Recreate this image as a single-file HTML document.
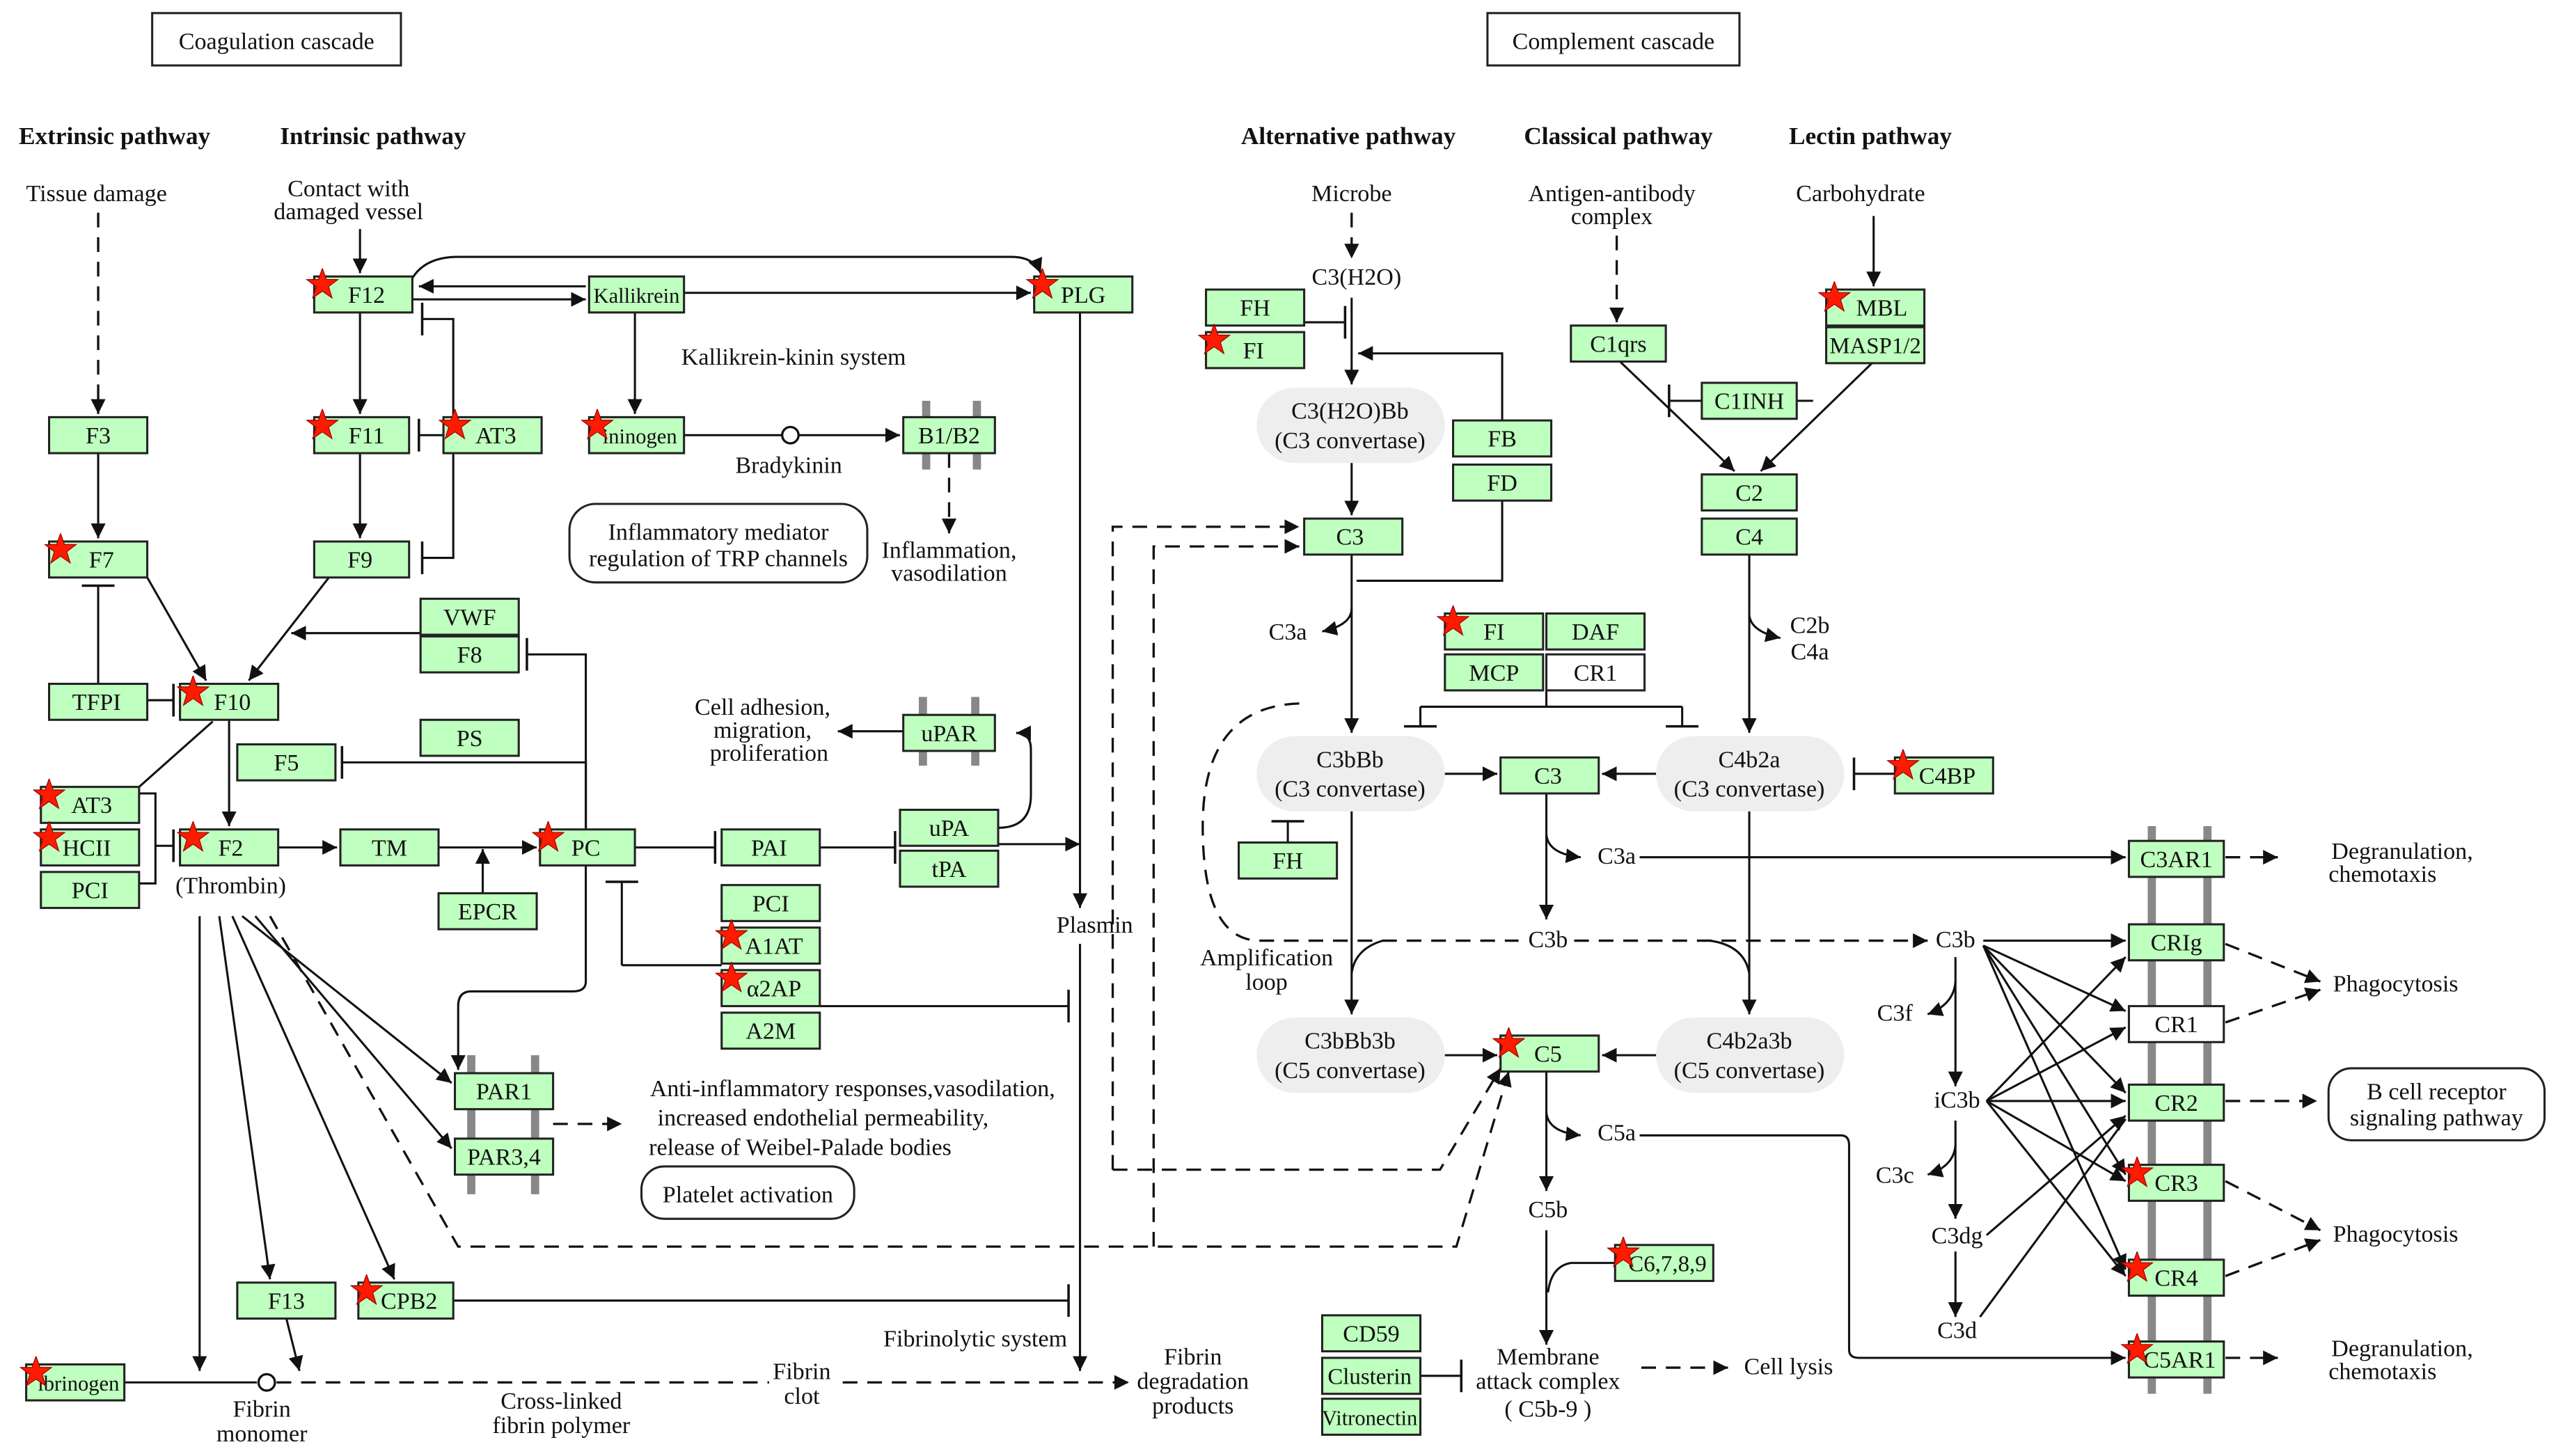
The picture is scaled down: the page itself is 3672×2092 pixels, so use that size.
<!DOCTYPE html>
<html><head><meta charset="utf-8"><style>
html,body{margin:0;padding:0;background:#fff;}
svg{display:block}
.b{fill:#bfffbf;stroke:#222;stroke-width:1.3}
.w{fill:#fff;stroke:#222;stroke-width:1.3}
text{font-family:"Liberation Serif",serif;font-size:14.5px;fill:#111;text-anchor:middle}
.h{font-weight:bold;font-size:15px}
.l{fill:none;stroke:#111;stroke-width:1.3}
.d{fill:none;stroke:#111;stroke-width:1.4;stroke-dasharray:9,6}
.e{fill:#eee;stroke:none}
.m{stroke:#888;stroke-width:5}
</style></head><body>
<svg width="3672" height="2092" viewBox="0 0 1562 890" preserveAspectRatio="none">
<defs>
<marker id="a" viewBox="0 0 10 10" refX="10" refY="5" markerWidth="9" markerHeight="9" markerUnits="userSpaceOnUse" orient="auto"><path d="M0,0L10,5L0,10z" fill="#111"/></marker>
<marker id="i" viewBox="0 0 4 20" refX="2" refY="10" markerWidth="4" markerHeight="20" markerUnits="userSpaceOnUse" orient="auto"><path d="M2,0V20" stroke="#111" stroke-width="1.5"/></marker>
<symbol id="s" viewBox="-10 -10 20 20"><path d="M0,-10L2.4,-3.2L9.5,-3.1L3.8,1.2L5.9,8.1L0,4L-5.9,8.1L-3.8,1.2L-9.5,-3.1L-2.4,-3.2z" fill="#ff1a00" stroke="#900" stroke-width="0.5"/></symbol>
</defs>
<!-- membranes -->
<line class="m" x1="566" y1="245" x2="566" y2="287"/><line class="m" x1="597" y1="245" x2="597" y2="287"/>
<line class="m" x1="564" y1="426" x2="564" y2="468"/><line class="m" x1="596" y1="426" x2="596" y2="468"/>
<line class="m" x1="288" y1="645" x2="288" y2="730"/><line class="m" x1="327" y1="645" x2="327" y2="730"/>
<line class="m" x1="1315" y1="505" x2="1315" y2="852"/><line class="m" x1="1349" y1="505" x2="1349" y2="852"/>
<!-- ellipses -->
<rect class="e" x="768" y="237" width="115" height="46" rx="23"/>
<rect class="e" x="768" y="450" width="115" height="46" rx="23"/>
<rect class="e" x="1012" y="450" width="115" height="46" rx="23"/>
<rect class="e" x="768" y="622" width="115" height="46" rx="23"/>
<rect class="e" x="1012" y="622" width="115" height="46" rx="23"/>
<!-- title boxes -->
<rect x="93" y="8" width="152" height="32" fill="#fff" stroke="#222" stroke-width="1.3"/><text x="169" y="30">Coagulation cascade</text>
<rect x="909" y="8" width="154" height="32" fill="#fff" stroke="#222" stroke-width="1.3"/><text x="986" y="30">Complement cascade</text>
<rect x="348" y="308" width="182" height="48" rx="16" fill="#fff" stroke="#222" stroke-width="1.3"/>
<text x="439" y="330">Inflammatory mediator</text><text x="439" y="346">regulation of TRP channels</text>
<rect x="392" y="713" width="130" height="32" rx="14" fill="#fff" stroke="#222" stroke-width="1.3"/><text x="457" y="735">Platelet activation</text>
<rect x="1423" y="653" width="132" height="44" rx="14" fill="#fff" stroke="#222" stroke-width="1.3"/><text x="1489" y="672">B cell receptor</text><text x="1489" y="688">signaling pathway</text>

<!-- headers -->
<text class="h" x="70" y="88">Extrinsic pathway</text>
<text class="h" x="228" y="88">Intrinsic pathway</text>
<text class="h" x="824" y="88">Alternative pathway</text>
<text class="h" x="989" y="88">Classical pathway</text>
<text class="h" x="1143" y="88">Lectin pathway</text>
<text x="59" y="123">Tissue damage</text>
<text x="213" y="120">Contact with</text><text x="213" y="134">damaged vessel</text>
<text x="826" y="123">Microbe</text>
<text x="985" y="123">Antigen-antibody</text><text x="985" y="137">complex</text>
<text x="1137" y="123">Carbohydrate</text>
<text x="485" y="223">Kallikrein-kinin system</text>
<text x="482" y="289">Bradykinin</text>
<text x="580" y="341">Inflammation,</text><text x="580" y="355">vasodilation</text>
<text x="466" y="437">Cell adhesion,</text><text x="466" y="451">migration,</text><text x="470" y="465">proliferation</text>
<text x="141" y="546">(Thrombin)</text>
<text x="669" y="570">Plasmin</text>
<text x="521" y="670">Anti-inflammatory responses,vasodilation,</text>
<text x="503" y="688">increased endothelial permeability,</text>
<text x="489" y="706">release of Weibel-Palade bodies</text>
<text x="596" y="823">Fibrinolytic system</text>
<text x="729" y="834">Fibrin</text><text x="729" y="849">degradation</text><text x="729" y="864">products</text>
<text x="490" y="843">Fibrin</text><text x="490" y="858">clot</text>
<text x="343" y="861">Cross-linked</text><text x="343" y="876">fibrin polymer</text>
<text x="160" y="866">Fibrin</text><text x="160" y="881">monomer</text>
<text x="829" y="174">C3(H2O)</text>
<text x="825" y="256">C3(H2O)Bb</text><text x="825" y="274">(C3 convertase)</text>
<text x="825" y="469">C3bBb</text><text x="825" y="487">(C3 convertase)</text>
<text x="1069" y="469">C4b2a</text><text x="1069" y="487">(C3 convertase)</text>
<text x="825" y="641">C3bBb3b</text><text x="825" y="659">(C5 convertase)</text>
<text x="1069" y="641">C4b2a3b</text><text x="1069" y="659">(C5 convertase)</text>
<text x="787" y="391">C3a</text>
<text x="1106" y="387">C2b</text><text x="1106" y="403">C4a</text>
<text x="988" y="528">C3a</text>
<text x="946" y="579">C3b</text>
<text x="774" y="590">Amplification</text><text x="774" y="605">loop</text>
<text x="988" y="697">C5a</text>
<text x="946" y="744">C5b</text>
<text x="946" y="834">Membrane</text><text x="946" y="849">attack complex</text><text x="946" y="866">( C5b-9 )</text>
<text x="1093" y="840">Cell lysis</text>
<text x="1195" y="579">C3b</text>
<text x="1158" y="624">C3f</text>
<text x="1196" y="677">iC3b</text>
<text x="1158" y="723">C3c</text>
<text x="1196" y="760">C3dg</text>
<text x="1196" y="818">C3d</text>
<text x="1468" y="525">Degranulation,</text><text x="1456" y="539">chemotaxis</text>
<text x="1464" y="606">Phagocytosis</text>
<text x="1464" y="759">Phagocytosis</text>
<text x="1468" y="829">Degranulation,</text><text x="1456" y="843">chemotaxis</text>

<!-- edges coagulation -->
<path class="d" d="M60,130V253" marker-end="url(#a)"/>
<path class="l" d="M60,277V329" marker-end="url(#a)"/>
<path class="l" d="M90,353L126,416" marker-end="url(#a)"/>
<path class="l" d="M60,418V358" marker-end="url(#i)"/>
<path class="l" d="M90,428H106" marker-end="url(#i)"/>
<path class="l" d="M201,353L152,416" marker-end="url(#a)"/>
<path class="l" d="M257,387H178" marker-end="url(#a)"/>
<path class="l" d="M220,140V167" marker-end="url(#a)"/>
<path class="l" d="M220,191V253" marker-end="url(#a)"/>
<path class="l" d="M220,277V329" marker-end="url(#a)"/>
<path class="l" d="M271,266H256" marker-end="url(#i)"/>
<path class="l" d="M277,255V195H258" marker-end="url(#i)"/>
<path class="l" d="M277,277V341H258" marker-end="url(#i)"/>
<path class="l" d="M358,175H256" marker-end="url(#a)"/>
<path class="l" d="M252,183H358" marker-end="url(#a)"/>
<path class="l" d="M252,170Q260,157 280,157H618Q632,157 636,167" marker-end="url(#a)"/>
<path class="l" d="M418,179H630" marker-end="url(#a)"/>
<path class="l" d="M388,191V253" marker-end="url(#a)"/>
<path class="l" d="M418,266H478"/><circle cx="483" cy="266" r="5" fill="#fff" stroke="#111" stroke-width="1.4"/>
<path class="l" d="M488,266H550" marker-end="url(#a)"/>
<path class="d" d="M580,277V326" marker-end="url(#a)"/>
<path class="l" d="M140,440V505" marker-end="url(#a)"/>
<path class="l" d="M130,441L85,481"/>
<path class="l" d="M85,485H95V540H85"/><path class="l" d="M95,517H106" marker-end="url(#i)"/>
<path class="l" d="M358,507V400H322" marker-end="url(#i)"/>
<path class="l" d="M358,466H209" marker-end="url(#i)"/>
<path class="l" d="M170,518H206" marker-end="url(#a)"/>
<path class="l" d="M268,518H328" marker-end="url(#a)"/>
<path class="l" d="M295,546V519" marker-end="url(#a)"/>
<path class="l" d="M388,518H437" marker-end="url(#i)"/>
<path class="l" d="M380,590H441"/><path class="l" d="M380,590V539" marker-end="url(#i)"/>
<path class="l" d="M501,518H547" marker-end="url(#i)"/>
<path class="l" d="M610,516H660" marker-end="url(#a)"/>
<path class="l" d="M610,506Q630,506 630,486V458Q630,448 621,448" marker-end="url(#a)"/>
<path class="l" d="M552,447H512" marker-end="url(#a)"/>
<path class="l" d="M660,191V555" marker-end="url(#a)"/>
<path class="l" d="M660,577V838" marker-end="url(#a)"/>
<path class="l" d="M501,615H653" marker-end="url(#i)"/>
<path class="l" d="M277,795H653" marker-end="url(#i)"/>
<path class="l" d="M358,466V600Q358,606 350,606H288Q280,606 280,615V654" marker-end="url(#a)"/>
<path class="l" d="M148,560L276,662" marker-end="url(#a)"/>
<path class="l" d="M156,560L276,702" marker-end="url(#a)"/>
<path class="l" d="M142,560L241,782" marker-end="url(#a)"/>
<path class="l" d="M134,560L165,782" marker-end="url(#a)"/>
<path class="l" d="M122,560V838" marker-end="url(#a)"/>
<path class="d" d="M165,560L280,762H890L922,655" marker-end="url(#a)"/>
<path class="l" d="M175,806L183,838" marker-end="url(#a)"/>
<path class="l" d="M76,845H157"/><circle cx="163" cy="845" r="5" fill="#fff" stroke="#111" stroke-width="1.4"/>
<path class="d" d="M169,845H470"/>
<path class="d" d="M515,845H690" marker-end="url(#a)"/>
<path class="d" d="M338,687H380" marker-end="url(#a)"/>
<path class="d" d="M680,715V322H794" marker-end="url(#a)"/>
<path class="d" d="M705,762V334H794" marker-end="url(#a)"/>
<path class="d" d="M680,715H880L917,653" marker-end="url(#a)"/>
<!-- complement edges -->
<path class="d" d="M826,130V158" marker-end="url(#a)"/>
<path class="l" d="M826,182V235" marker-end="url(#a)"/>
<path class="l" d="M797,197H822" marker-end="url(#i)"/>
<path class="l" d="M918,257V216H830" marker-end="url(#a)"/>
<path class="l" d="M918,306V355H829"/>
<path class="l" d="M826,283V315" marker-end="url(#a)"/>
<path class="l" d="M826,339V448" marker-end="url(#a)"/>
<path class="l" d="M826,372Q826,382 808,386" marker-end="url(#a)"/>
<path class="l" d="M883,473H915" marker-end="url(#a)"/>
<path class="l" d="M1012,473H979" marker-end="url(#a)"/>
<path class="l" d="M1158,473H1133" marker-end="url(#i)"/>
<path class="l" d="M945,485V562" marker-end="url(#a)"/>
<path class="l" d="M945,510Q946,522 966,524" marker-end="url(#a)"/>
<path class="l" d="M1002,524H1299" marker-end="url(#a)"/>
<path class="d" d="M794,430Q735,432 735,505Q735,575 770,575H928"/>
<path class="l" d="M845,575Q828,580 826,595M1045,575Q1066,578 1069,595"/>
<path class="d" d="M962,575H1178" marker-end="url(#a)"/>
<path class="l" d="M826,496V620" marker-end="url(#a)"/>
<path class="l" d="M1069,496V620" marker-end="url(#a)"/>
<path class="l" d="M883,645H915" marker-end="url(#a)"/>
<path class="l" d="M1012,645H979" marker-end="url(#a)"/>
<path class="l" d="M945,655V728" marker-end="url(#a)"/>
<path class="l" d="M945,680Q946,692 966,694" marker-end="url(#a)"/>
<path class="l" d="M1002,694H1125Q1130,694 1130,700V825Q1130,830 1136,830H1299" marker-end="url(#a)"/>
<path class="l" d="M945,752V822" marker-end="url(#a)"/>
<path class="l" d="M987,772H960Q948,774 946,790"/>
<path class="l" d="M868,841H893" marker-end="url(#i)"/>
<path class="d" d="M1003,836H1056" marker-end="url(#a)"/>
<path class="d" d="M988,144V197" marker-end="url(#a)"/>
<path class="l" d="M1145,132V175" marker-end="url(#a)"/>
<path class="l" d="M990,221L1060,288" marker-end="url(#a)"/>
<path class="l" d="M1145,221L1076,288" marker-end="url(#a)"/>
<path class="l" d="M1040,245H1020" marker-end="url(#i)"/>
<path class="l" d="M1098,245H1108"/>
<path class="l" d="M1069,339V448" marker-end="url(#a)"/>
<path class="l" d="M1069,376Q1070,386 1088,390" marker-end="url(#a)"/>
<path class="l" d="M945,422V432M868,432H1028"/><path class="l" d="M868,432V444" marker-end="url(#i)"/><path class="l" d="M1028,432V444" marker-end="url(#i)"/>
<path class="l" d="M787,515V502" marker-end="url(#i)"/>
<path class="l" d="M1212,575H1299" marker-end="url(#a)"/>
<path class="l" d="M1195,585V664" marker-end="url(#a)"/>
<path class="l" d="M1195,600Q1194,614 1178,620" marker-end="url(#a)"/>
<path class="l" d="M1195,685V745" marker-end="url(#a)"/>
<path class="l" d="M1195,700Q1194,713 1178,718" marker-end="url(#a)"/>
<path class="l" d="M1195,765V805" marker-end="url(#a)"/>
<path class="l" d="M1212,578L1299,618" marker-end="url(#a)"/><path class="l" d="M1212,578L1299,668" marker-end="url(#a)"/><path class="l" d="M1212,578L1299,718" marker-end="url(#a)"/><path class="l" d="M1212,578L1299,776" marker-end="url(#a)"/>
<path class="l" d="M1214,673L1299,585" marker-end="url(#a)"/><path class="l" d="M1214,673L1299,628" marker-end="url(#a)"/><path class="l" d="M1214,673L1299,673" marker-end="url(#a)"/><path class="l" d="M1214,673L1299,722" marker-end="url(#a)"/><path class="l" d="M1214,673L1299,780" marker-end="url(#a)"/>
<path class="l" d="M1214,755L1299,682" marker-end="url(#a)"/>
<path class="l" d="M1210,805L1299,684"/>
<path class="d" d="M1360,524H1392" marker-end="url(#a)"/>
<path class="d" d="M1360,577L1418,600" marker-end="url(#a)"/>
<path class="d" d="M1360,625L1418,605" marker-end="url(#a)"/>
<path class="d" d="M1360,673H1416" marker-end="url(#a)"/>
<path class="d" d="M1360,722L1418,752" marker-end="url(#a)"/>
<path class="d" d="M1360,780L1418,758" marker-end="url(#a)"/>
<path class="d" d="M1360,830H1392" marker-end="url(#a)"/>

<!-- boxes coagulation -->
<rect class="b" x="30" y="255" width="60" height="22"/><text x="60" y="271">F3</text>
<rect class="b" x="30" y="331" width="60" height="22"/><text x="62" y="347">F7</text>
<rect class="b" x="30" y="418" width="60" height="22"/><text x="59" y="434">TFPI</text>
<rect class="b" x="110" y="418" width="60" height="22"/><text x="142" y="434">F10</text>
<rect class="b" x="25" y="481" width="60" height="22"/><text x="56" y="497">AT3</text>
<rect class="b" x="25" y="507" width="60" height="22"/><text x="53" y="523">HCII</text>
<rect class="b" x="25" y="533" width="60" height="22"/><text x="55" y="549">PCI</text>
<rect class="b" x="110" y="507" width="60" height="22"/><text x="141" y="523">F2</text>
<rect class="b" x="192" y="169" width="60" height="22"/><text x="224" y="185">F12</text>
<rect class="b" x="192" y="255" width="58" height="22"/><text x="224" y="271">F11</text>
<rect class="b" x="271" y="255" width="60" height="22"/><text x="303" y="271">AT3</text>
<rect class="b" x="192" y="331" width="58" height="22"/><text x="220" y="347">F9</text>
<rect class="b" x="360" y="169" width="58" height="22"/><text x="389" y="185" style="font-size:13px">Kallikrein</text>
<rect class="b" x="360" y="255" width="58" height="22"/><text x="391" y="271" style="font-size:13px">ininogen</text>
<rect class="b" x="552" y="255" width="56" height="22"/><text x="580" y="271">B1/B2</text>
<rect class="b" x="257" y="366" width="60" height="22"/><text x="287" y="382">VWF</text>
<rect class="b" x="257" y="389" width="60" height="22"/><text x="287" y="405">F8</text>
<rect class="b" x="257" y="440" width="60" height="22"/><text x="287" y="456">PS</text>
<rect class="b" x="145" y="455" width="60" height="22"/><text x="175" y="471">F5</text>
<rect class="b" x="208" y="507" width="60" height="22"/><text x="238" y="523">TM</text>
<rect class="b" x="330" y="507" width="58" height="22"/><text x="358" y="523">PC</text>
<rect class="b" x="268" y="546" width="60" height="22"/><text x="298" y="562">EPCR</text>
<rect class="b" x="441" y="507" width="60" height="22"/><text x="470" y="523">PAI</text>
<rect class="b" x="552" y="437" width="56" height="22"/><text x="580" y="453">uPAR</text>
<rect class="b" x="550" y="495" width="60" height="22"/><text x="580" y="511">uPA</text>
<rect class="b" x="550" y="520" width="60" height="22"/><text x="580" y="536">tPA</text>
<rect class="b" x="441" y="541" width="60" height="22"/><text x="471" y="557">PCI</text>
<rect class="b" x="441" y="567" width="60" height="22"/><text x="473" y="583">A1AT</text>
<rect class="b" x="441" y="593" width="60" height="22"/><text x="473" y="609">α2AP</text>
<rect class="b" x="441" y="619" width="60" height="22"/><text x="471" y="635">A2M</text>
<rect class="b" x="278" y="656" width="60" height="22"/><text x="308" y="672">PAR1</text>
<rect class="b" x="278" y="696" width="60" height="22"/><text x="308" y="712">PAR3,4</text>
<rect class="b" x="145" y="784" width="60" height="22"/><text x="175" y="800">F13</text>
<rect class="b" x="219" y="784" width="58" height="22"/><text x="250" y="800">CPB2</text>
<rect class="b" x="16" y="834" width="60" height="22"/><text x="48" y="850" style="font-size:13px">ibrinogen</text>
<rect class="b" x="632" y="169" width="60" height="22"/><text x="662" y="185">PLG</text>
<!-- boxes complement -->
<rect class="b" x="737" y="177" width="60" height="22"/><text x="767" y="193">FH</text>
<rect class="b" x="737" y="203" width="60" height="22"/><text x="766" y="219">FI</text>
<rect class="b" x="888" y="257" width="60" height="22"/><text x="918" y="273">FB</text>
<rect class="b" x="888" y="284" width="60" height="22"/><text x="918" y="300">FD</text>
<rect class="b" x="797" y="317" width="60" height="22"/><text x="825" y="333">C3</text>
<rect class="b" x="960" y="199" width="58" height="22"/><text x="989" y="215">C1qrs</text>
<rect class="b" x="1116" y="177" width="60" height="22"/><text x="1150" y="193">MBL</text>
<rect class="b" x="1116" y="200" width="60" height="22"/><text x="1146" y="216" style="font-size:14px">MASP1/2</text>
<rect class="b" x="1040" y="234" width="58" height="22"/><text x="1069" y="250">C1INH</text>
<rect class="b" x="1040" y="290" width="58" height="22"/><text x="1069" y="306">C2</text>
<rect class="b" x="1040" y="317" width="58" height="22"/><text x="1069" y="333">C4</text>
<rect class="b" x="883" y="375" width="60" height="22"/><text x="913" y="391">FI</text>
<rect class="b" x="945" y="375" width="60" height="22"/><text x="975" y="391">DAF</text>
<rect class="b" x="883" y="400" width="60" height="22"/><text x="913" y="416">MCP</text>
<rect class="w" x="945" y="400" width="60" height="22"/><text x="975" y="416">CR1</text>
<rect class="b" x="917" y="463" width="60" height="22"/><text x="946" y="479">C3</text>
<rect class="b" x="1158" y="463" width="60" height="22"/><text x="1190" y="479">C4BP</text>
<rect class="b" x="757" y="515" width="60" height="22"/><text x="787" y="531">FH</text>
<rect class="b" x="917" y="633" width="60" height="22"/><text x="946" y="649">C5</text>
<rect class="b" x="987" y="761" width="60" height="22"/><text x="1019" y="777" style="font-size:14px">C6,7,8,9</text>
<rect class="b" x="808" y="804" width="60" height="22"/><text x="838" y="820">CD59</text>
<rect class="b" x="808" y="830" width="60" height="22"/><text x="837" y="846" style="font-size:14px">Clusterin</text>
<rect class="b" x="808" y="855" width="60" height="22"/><text x="837" y="871" style="font-size:13px">Vitronectin</text>
<rect class="b" x="1301" y="514" width="58" height="22"/><text x="1330" y="530">C3AR1</text>
<rect class="b" x="1301" y="565" width="58" height="22"/><text x="1330" y="581">CRIg</text>
<rect class="w" x="1301" y="615" width="58" height="22"/><text x="1330" y="631">CR1</text>
<rect class="b" x="1301" y="663" width="58" height="22"/><text x="1330" y="679">CR2</text>
<rect class="b" x="1301" y="712" width="58" height="22"/><text x="1330" y="728">CR3</text>
<rect class="b" x="1301" y="770" width="58" height="22"/><text x="1330" y="786">CR4</text>
<rect class="b" x="1301" y="820" width="58" height="22"/><text x="1332" y="836">C5AR1</text>
<!-- stars -->
<use href="#s" x="187" y="164" width="20" height="20"/>
<use href="#s" x="187" y="250" width="20" height="20"/>
<use href="#s" x="268" y="250" width="20" height="20"/>
<use href="#s" x="355" y="250" width="20" height="20"/>
<use href="#s" x="27" y="326" width="20" height="20"/>
<use href="#s" x="108" y="413" width="20" height="20"/>
<use href="#s" x="20" y="476" width="20" height="20"/>
<use href="#s" x="20" y="502" width="20" height="20"/>
<use href="#s" x="108" y="502" width="20" height="20"/>
<use href="#s" x="325" y="502" width="20" height="20"/>
<use href="#s" x="437" y="562" width="20" height="20"/>
<use href="#s" x="437" y="588" width="20" height="20"/>
<use href="#s" x="214" y="779" width="20" height="20"/>
<use href="#s" x="12" y="829" width="20" height="20"/>
<use href="#s" x="627" y="164" width="20" height="20"/>
<use href="#s" x="732" y="198" width="20" height="20"/>
<use href="#s" x="1111" y="172" width="20" height="20"/>
<use href="#s" x="878" y="370" width="20" height="20"/>
<use href="#s" x="1153" y="458" width="20" height="20"/>
<use href="#s" x="912" y="628" width="20" height="20"/>
<use href="#s" x="982" y="756" width="20" height="20"/>
<use href="#s" x="1296" y="707" width="20" height="20"/>
<use href="#s" x="1296" y="765" width="20" height="20"/>
<use href="#s" x="1296" y="815" width="20" height="20"/>
</svg>
</body></html>
